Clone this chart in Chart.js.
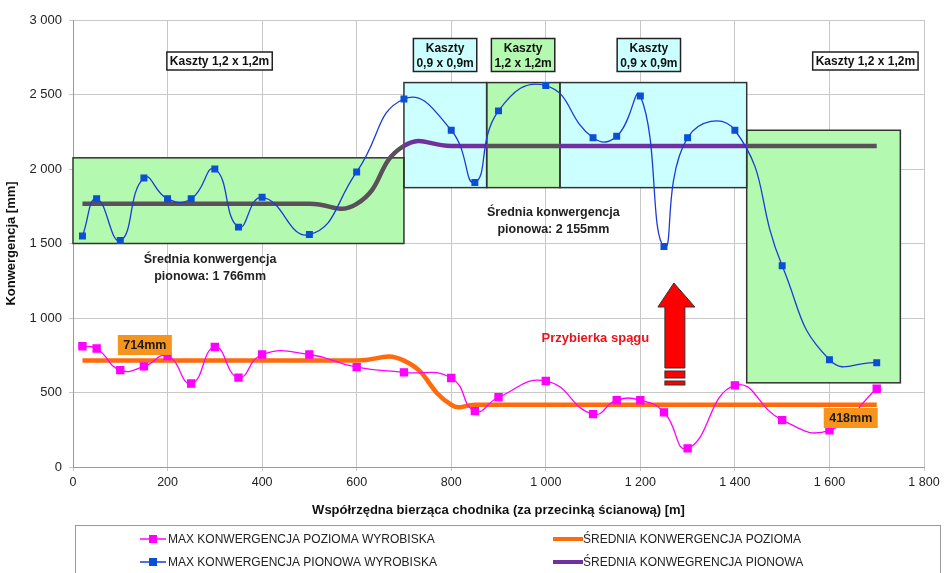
<!DOCTYPE html>
<html>
<head>
<meta charset="utf-8">
<script src="https://cdn.jsdelivr.net/npm/chart.js@4.4.1/dist/chart.umd.min.js"></script>
<style>
    html, body { margin: 0; padding: 0; background: #ffffff; }
    #wrap { width: 946px; height: 573px; position: relative; }
</style>
</head>
<body>
<div id="wrap"><canvas id="konwergencja"></canvas></div>
<script>
// POMIARY KONWERGENCJI - chodnik za przecinką ścianową
const distances = [20, 50, 100, 150, 200, 250, 300, 350, 400, 500, 600, 700,
    800, 850, 900, 1000, 1100, 1150, 1200, 1250, 1300, 1400, 1500, 1600, 1700];

const maxVertical = [1550, 1800, 1520, 1940, 1800, 1800, 2000, 1610, 1810, 1560, 1980, 2470,
    2260, 1910, 2390, 2560, 2210, 2220, 2490, 1480, 2210, 2260, 1350, 720, 700];

const maxHorizontal = [810, 795, 650, 675, 745, 560, 805, 600, 755, 755, 670, 635,
    597, 375, 468, 577, 355, 448, 448, 367, 125, 548, 315, 246, 525];

// average lines (step between the two sections)
const avgVerticalX = [20, 500, 600, 700, 800, 1700];
const avgVerticalY = [1766, 1766, 1766, 2155, 2155, 2155];
const avgHorizontalX = [20, 600, 700, 800, 850, 1700];
const avgHorizontalY = [714, 714, 714, 418, 418, 418];

const xTicks = [0, 200, 400, 600, 800, 1000, 1200, 1400, 1600, 1800];
const yTicks = [0, 500, 1000, 1500, 2000, 2500, 3000];

// support cribs (kaszty) sections: [fromX, toX, bottom, top, type]
const cribs = [
    [0, 700, 1500, 2075, "1,2"],
    [700, 875, 1875, 2580, "0,9"],
    [875, 1030, 1875, 2580, "1,2"],
    [1030, 1425, 1875, 2580, "0,9"],
    [1425, 1750, 565, 2260, "1,2"]
];

const seriesLabels = [
    "MAX KONWERGENCJA POZIOMA WYROBISKA",
    "ŚREDNIA KONWERGENCJA POZIOMA",
    "MAX KONWERGENCJA PIONOWA WYROBISKA",
    "ŚREDNIA KONWEGRENCJA PIONOWA"
];

const GREEN = "#b4f9b0";
const CYAN = "#ccffff";
const PURPLE = "#7030a0";
const PURPLE_DIM = "#5a505a";

function spaced(v) {
    return String(v).replace(/\B(?=(\d{3})+(?!\d))/g, " ");
}

function toPoints(xs, ys) {
    return xs.map((x, i) => ({ x: x, y: ys[i] }));
}

// purple line looks grey where the green boxes cover it
function purpleGradient(context) {
    const chart = context.chart;
    const area = chart.chartArea;
    if (!area) return PURPLE;
    const sx = chart.scales.x;
    const g = chart.ctx.createLinearGradient(area.left, 0, area.right, 0);
    const w = area.right - area.left;
    const stop = v => Math.min(1, Math.max(0, (sx.getPixelForValue(v) - area.left) / w));
    cribs.forEach(c => {
        const col = c[4] === "1,2" ? PURPLE_DIM : PURPLE;
        g.addColorStop(stop(c[0]) + 0.0001, col);
        g.addColorStop(stop(c[1]), col);
    });
    return g;
}

function labelBox(ctx, cx, cy, lines, fill) {
    ctx.font = "bold 12px 'Liberation Sans', Arial, sans-serif";
    const w = Math.max(...lines.map(l => ctx.measureText(l).width)) + 6;
    const h = lines.length * 15 + 3;
    ctx.fillStyle = fill;
    ctx.fillRect(cx - w / 2, cy - h / 2, w, h);
    ctx.strokeStyle = "#222";
    ctx.lineWidth = 1.5;
    ctx.strokeRect(cx - w / 2, cy - h / 2, w, h);
    ctx.fillStyle = "#111";
    ctx.textAlign = "center";
    ctx.textBaseline = "middle";
    lines.forEach((l, i) => {
        ctx.fillText(l, cx, cy - (lines.length - 1) * 7.5 + i * 15 + 1);
    });
}

const cribsPlugin = {
    id: "cribs",
    beforeDatasetsDraw(chart) {
        const { ctx, scales: { x, y } } = chart;
        ctx.save();
        cribs.forEach(c => {
            const x0 = x.getPixelForValue(c[0]);
            const x1 = x.getPixelForValue(c[1]);
            const y0 = y.getPixelForValue(c[3]);
            const y1 = y.getPixelForValue(c[2]);
            ctx.fillStyle = c[4] === "1,2" ? GREEN : CYAN;
            ctx.fillRect(x0, y0, x1 - x0, y1 - y0);
        });
        ctx.strokeStyle = "#333";
        ctx.lineWidth = 1.5;
        cribs.forEach(c => {
            const x0 = x.getPixelForValue(c[0]);
            const x1 = x.getPixelForValue(c[1]);
            const y0 = y.getPixelForValue(c[3]);
            const y1 = y.getPixelForValue(c[2]);
            ctx.strokeRect(x0, y0, x1 - x0, y1 - y0);
        });
        ctx.restore();
    },
    afterDatasetsDraw(chart) {
        const { ctx, scales: { x, y } } = chart;
        const px = v => x.getPixelForValue(v);
        ctx.save();

        // crib captions
        labelBox(ctx, px(310), 61, ["Kaszty 1,2 x 1,2m"], "#ffffff");
        labelBox(ctx, px(787), 55, ["Kaszty", "0,9 x 0,9m"], CYAN);
        labelBox(ctx, px(952), 55, ["Kaszty", "1,2 x 1,2m"], GREEN);
        labelBox(ctx, px(1218), 55, ["Kaszty", "0,9 x 0,9m"], CYAN);
        labelBox(ctx, px(1676), 61, ["Kaszty 1,2 x 1,2m"], "#ffffff");

        // average descriptions
        ctx.font = "bold 12.5px 'Liberation Sans', Arial, sans-serif";
        ctx.fillStyle = "#222";
        ctx.textAlign = "center";
        ctx.textBaseline = "middle";
        ctx.fillText("Średnia konwergencja", px(290), 260);
        ctx.fillText("pionowa: 1 766mm", px(290), 277);
        ctx.fillText("Średnia konwergencja", px(1016), 213);
        ctx.fillText("pionowa: 2 155mm", px(1016), 230);

        // floor ripping
        ctx.font = "bold 13px 'Liberation Sans', Arial, sans-serif";
        ctx.fillStyle = "#e8141b";
        ctx.fillText("Przybierka spągu", px(1105), 338);

        const ax = 1271;
        ctx.beginPath();
        ctx.moveTo(px(ax), 283);
        ctx.lineTo(px(ax) + 21, 307);
        ctx.lineTo(px(ax) + 11, 307);
        ctx.lineTo(px(ax) + 11, 368);
        ctx.lineTo(px(ax) - 9, 368);
        ctx.lineTo(px(ax) - 9, 307);
        ctx.lineTo(px(ax) - 16, 307);
        ctx.closePath();
        ctx.fillStyle = "#ff0000";
        ctx.fill();
        ctx.strokeStyle = "#333";
        ctx.lineWidth = 1;
        ctx.stroke();
        [[371, 7], [381, 4]].forEach(s => {
            ctx.fillRect(px(ax) - 9, s[0], 20, s[1]);
            ctx.strokeRect(px(ax) - 9, s[0], 20, s[1]);
        });

        // average value badges
        ctx.font = "bold 12.5px 'Liberation Sans', Arial, sans-serif";
        [[152, 345, "714mm"], [1645, 418, "418mm"]].forEach(b => {
            const cx = px(b[0]);
            const cy = b[1];
            ctx.fillStyle = "#f7941d";
            ctx.fillRect(cx - 27, cy - 10, 54, 20);
            ctx.fillStyle = "#1a1a1a";
            ctx.fillText(b[2], cx, cy + 1);
        });
        ctx.restore();
    },
    afterDraw(chart) {
        const ctx = chart.ctx;
        ctx.save();
        ctx.strokeStyle = "#9a9a9a";
        ctx.lineWidth = 1;
        ctx.strokeRect(75.5, 525.5, 865, 60);

        const entries = [
            { ds: 0, x: 140, y: 539, thick: false },
            { ds: 1, x: 553, y: 539, thick: true },
            { ds: 2, x: 140, y: 562, thick: false },
            { ds: 3, x: 553, y: 562, thick: true }
        ];
        ctx.font = "12px 'Liberation Sans Narrow', 'Arial Narrow', 'Liberation Sans', sans-serif";
        ctx.textAlign = "left";
        ctx.textBaseline = "middle";
        entries.forEach(e => {
            const ds = chart.data.datasets[e.ds];
            const col = e.ds === 3 ? PURPLE : ds.borderColor;
            ctx.strokeStyle = col;
            ctx.lineWidth = e.thick ? 4 : 1.5;
            ctx.beginPath();
            ctx.moveTo(e.x, e.y);
            ctx.lineTo(e.x + (e.thick ? 30 : 26), e.y);
            ctx.stroke();
            if (!e.thick) {
                ctx.fillStyle = ds.pointBackgroundColor;
                ctx.fillRect(e.x + 9, e.y - 4, 8, 8);
            }
            ctx.fillStyle = "#222";
            ctx.fillText(seriesLabels[e.ds], e.x + (e.thick ? 30 : 28), e.y + 1);
        });
        ctx.restore();
    }
};

new Chart(document.getElementById("konwergencja"), {
    type: "line",
    data: {
        datasets: [
            {
                label: seriesLabels[0],
                data: toPoints(distances, maxHorizontal),
                borderColor: "#ff00ff",
                backgroundColor: "#ff00ff",
                pointBackgroundColor: "#ff00ff",
                pointBorderColor: "#ff00ff",
                pointStyle: "rect",
                pointRadius: 5,
                borderWidth: 1.3,
                tension: 0.5,
                order: 2
            },
            {
                label: seriesLabels[1],
                data: toPoints(avgHorizontalX, avgHorizontalY),
                borderColor: "#ff6a0d",
                borderWidth: 4.5,
                pointRadius: 0,
                tension: 0.5,
                order: 3
            },
            {
                label: seriesLabels[2],
                data: toPoints(distances, maxVertical),
                borderColor: "#1c3bd6",
                backgroundColor: "#0a4fd4",
                pointBackgroundColor: "#0a4fd4",
                pointBorderColor: "#0a4fd4",
                pointStyle: "rect",
                pointRadius: 4,
                borderWidth: 1.3,
                tension: 0.5,
                order: 1
            },
            {
                label: seriesLabels[3],
                data: toPoints(avgVerticalX, avgVerticalY),
                borderColor: purpleGradient,
                borderWidth: 4.5,
                pointRadius: 0,
                tension: 0.5,
                order: 4
            }
        ]
    },
    options: {
        responsive: true,
        maintainAspectRatio: false,
        animation: false,
        layout: {
            padding: { top: 20, right: 22, bottom: 51, left: 0 }
        },
        plugins: {
            legend: { display: false },
            tooltip: { enabled: false }
        },
        scales: {
            x: {
                type: "linear",
                min: 0,
                max: 1800,
                afterBuildTicks: s => { s.ticks = xTicks.map(v => ({ value: v })); },
                afterFit: s => { s.height = 55; },
                ticks: {
                    callback: v => spaced(v),
                    color: "#222",
                    padding: 4,
                    maxRotation: 0,
                    font: { family: "'Liberation Sans Narrow', 'Arial Narrow', 'Liberation Sans', sans-serif", size: 12.5 }
                },
                grid: { color: "#c8c8c8", tickLength: 4 },
                border: { color: "#9a9a9a" },
                title: {
                    display: true,
                    text: "Współrzędna bierząca chodnika (za przecinką ścianową) [m]",
                    color: "#111",
                    padding: { top: 0, bottom: 4 },
                    font: { family: "'Liberation Sans', Arial, sans-serif", size: 13, weight: "bold" }
                }
            },
            y: {
                min: 0,
                max: 3000,
                afterBuildTicks: s => { s.ticks = yTicks.map(v => ({ value: v })); },
                afterFit: s => { s.width = 73; },
                ticks: {
                    callback: v => spaced(v),
                    color: "#222",
                    padding: 7,
                    font: { family: "'Liberation Sans', Arial, sans-serif", size: 13 }
                },
                grid: { color: "#c8c8c8", tickLength: 4 },
                border: { color: "#9a9a9a" },
                title: {
                    display: true,
                    text: "Konwergencja [mm]",
                    color: "#111",
                    padding: { top: 4, bottom: 0 },
                    font: { family: "'Liberation Sans', Arial, sans-serif", size: 13, weight: "bold" }
                }
            }
        }
    },
    plugins: [cribsPlugin]
});
</script>
</body>
</html>
